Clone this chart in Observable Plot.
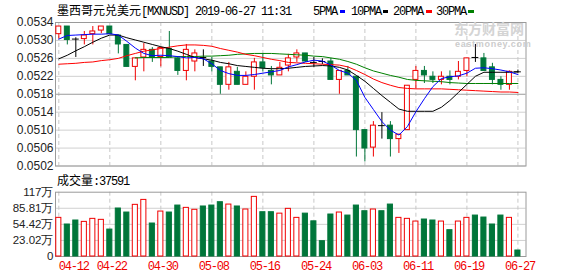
<!DOCTYPE html>
<html><head><meta charset="utf-8">
<script src="https://cdn.jsdelivr.net/npm/d3@7"></script>
<script src="https://cdn.jsdelivr.net/npm/@observablehq/plot@0.6"></script>
<style>
body{margin:0;background:#fff;}
#wrap{position:relative;width:578px;height:276px;overflow:hidden;background:#fff;}
#wrap svg{position:absolute;left:0;}
</style></head><body><div id="wrap"></div>
<script>
const dates = ["04-12","04-15","04-16","04-17","04-18","04-19","04-22","04-23","04-24","04-25","04-26","04-29","04-30",
"05-01","05-02","05-03","05-06","05-07","05-08","05-09","05-10","05-13","05-14","05-15","05-16","05-17",
"05-20","05-21","05-22","05-23","05-24","05-27","05-28","05-29","05-30","05-31",
"06-03","06-04","06-05","06-06","06-07","06-10","06-11","06-12","06-13","06-14",
"06-17","06-18","06-19","06-20","06-21","06-24","06-25","06-26","06-27"];
const open = [0.05314,0.05331,0.05303,0.05303,0.05314,0.05322,0.05331,0.05311,0.0529,0.05241,
0.05262,0.05279,0.05263,0.05281,0.0526,0.05232,0.05253,0.05262,0.05253,0.0524,
0.05201,0.0523,0.05201,0.05219,0.05251,0.05232,0.05222,0.05244,0.05262,0.05271,
0.05251,0.05253,0.05253,0.05212,0.05232,0.05219,0.051,0.05061,0.0511,0.0511,
0.0508,0.051,0.05212,0.05232,0.05219,0.05212,0.05219,0.05219,0.05232,0.05262,
0.0526,0.0524,0.05212,0.05201,0.0523];
const high = [0.05331,0.05331,0.05306,0.0532,0.05331,0.05331,0.05331,0.05311,0.0529,0.0526,
0.05293,0.05284,0.05284,0.0532,0.05263,0.05291,0.05279,0.05279,0.05262,0.0524,
0.05251,0.0524,0.0523,0.0526,0.05271,0.05242,0.05251,0.05269,0.05279,0.05271,
0.05262,0.05259,0.0526,0.05232,0.05242,0.05219,0.051,0.05119,0.05139,0.05119,
0.0509,0.05199,0.05242,0.05242,0.0523,0.0523,0.05232,0.05253,0.0526,0.05291,
0.05271,0.05249,0.05219,0.05232,0.05234];
const low = [0.05303,0.0529,0.05262,0.0529,0.0529,0.05315,0.05314,0.0527,0.05241,0.0521,
0.0523,0.05251,0.05241,0.05262,0.05222,0.0521,0.0523,0.05242,0.0523,0.0518,
0.05189,0.05201,0.05201,0.05189,0.0523,0.05201,0.05222,0.0523,0.05251,0.05251,
0.0524,0.05246,0.05212,0.0518,0.05222,0.0504,0.05029,0.0504,0.0508,0.0504,
0.05048,0.051,0.05192,0.05204,0.05204,0.05201,0.05201,0.05212,0.05219,0.05251,
0.05232,0.05201,0.05189,0.05189,0.05227];
const close = [0.05331,0.05301,0.05303,0.05311,0.0532,0.05331,0.05314,0.05291,0.05241,0.0526,
0.05279,0.05262,0.05283,0.05262,0.05232,0.05279,0.05271,0.05262,0.05241,0.05201,
0.0524,0.05201,0.05219,0.05251,0.05238,0.05222,0.05239,0.0526,0.05271,0.05253,
0.05251,0.05253,0.05212,0.05232,0.05222,0.051,0.05059,0.0511,0.0511,0.0508,
0.0509,0.05199,0.05232,0.05222,0.05212,0.05219,0.05212,0.0523,0.0526,0.05262,
0.05232,0.05212,0.05201,0.0523,0.0523];
const volume = [70.3,58.2,65.5,63,68.5,66.7,49,87.3,80,94,
103,60,81.8,80,92.7,88.5,85,91,92.7,98.8,
94.5,91,85.5,108.5,80.6,80.6,78,86.7,70.3,78,
64,27.9,76.4,80,74.5,92.7,82.4,85.5,82.4,94.5,
70.3,68.5,63.6,67.3,65.5,63.6,47.9,63.6,70.3,74.5,
70.9,58.2,74.5,70.3,10.9];
const ma5 = [0.05303,0.05311,0.05312,0.05313,0.05314,0.05314,0.05315,0.05312,0.05298,0.05283,
0.05271,0.05266,0.05267,0.05266,0.05264,0.05261,0.05262,0.05259,0.05248,0.05233,
0.05226,0.05222,0.05222,0.05224,0.05227,0.0523,0.05233,0.05241,0.05246,0.05252,
0.05256,0.05254,0.05245,0.05233,0.05227,0.05211,0.05173,0.05146,0.05119,0.051,
0.05089,0.05108,0.05141,0.0517,0.05197,0.05215,0.05219,0.05221,0.05227,0.05238,
0.05239,0.05237,0.05234,0.0523,0.05224];
const ma10 = [0.05259,0.05267,0.05277,0.05286,0.05296,0.05305,0.05312,0.05312,0.05306,0.05301,
0.05296,0.05291,0.05286,0.05282,0.05276,0.05269,0.05262,0.05259,0.05256,0.05251,
0.05248,0.05244,0.05242,0.0524,0.05238,0.05237,0.05237,0.05238,0.0524,0.05242,
0.05243,0.05244,0.05243,0.0524,0.05234,0.05222,0.05209,0.05193,0.05177,0.05162,
0.05147,0.05142,0.05142,0.05142,0.05142,0.05151,0.05166,0.05184,0.05202,0.0522,
0.05229,0.05229,0.05229,0.05229,0.0523];
const ma20 = [0.05247,0.05248,0.05249,0.05251,0.05252,0.05255,0.05257,0.0526,0.05266,0.05271,
0.05276,0.05279,0.05282,0.05285,0.05288,0.0529,0.0529,0.05289,0.05287,0.05282,
0.05278,0.05274,0.05269,0.05266,0.05262,0.05258,0.05255,0.05251,0.0525,0.05249,
0.05248,0.05247,0.05246,0.05245,0.05241,0.05233,0.05224,0.05214,0.05206,0.052,
0.05195,0.05193,0.05192,0.05192,0.05192,0.05192,0.05191,0.0519,0.05189,0.05188,
0.05187,0.05186,0.05185,0.05185,0.05184];
const ma30 = [null,null,null,null,null,null,null,null,null,0.05261,
0.05262,0.05262,0.05262,0.05262,0.05264,0.05264,0.05264,0.05265,0.05265,0.05266,
0.05267,0.05269,0.0527,0.05271,0.05271,0.05271,0.0527,0.05269,0.05268,0.05267,
0.05265,0.05264,0.05261,0.05258,0.05253,0.05247,0.05239,0.05232,0.05227,0.05222,
0.05218,0.05213,0.05211,0.0521,0.05209,0.05208,0.05206,0.05205,0.05204,0.05204,
0.05204,0.05204,0.05204,0.05204,0.05204];
const priceTicks = [0.0502,0.0506,0.0510,0.0514,0.0518,0.0522,0.0526,0.0530,0.0534];
const volTickPos = [0,29.25,58.5,87.75,117];
const volTickLabels = ["0","23.02万","54.42万","85.81万","117万"];

const RED = "#f00000", GREEN = "#00763a";
const idx = d3.range(dates.length);
const rows = idx.map(i => ({i, o:open[i], h:high[i], l:low[i], c:close[i], v:volume[i]}));
const dir = d => d.c > d.o ? 1 : d.c < d.o ? -1 : 0;
const candleColor = d => dir(d) > 0 ? RED : dir(d) < 0 ? GREEN : "#000";
const bodies = rows.filter(d => dir(d) !== 0);
const dojis = rows.filter(d => dir(d) === 0);
const tickIdx = d3.range(0, dates.length, 6);
const xOpt = {type:"linear", domain:[-0.39, 54.95], axis:null};
const baseStyle = {background:"transparent", fontFamily:"Liberation Sans, Arial, sans-serif", fontSize:"12px", overflow:"visible"};

const price = Plot.plot({
  width:578, height:168, marginLeft:55, marginRight:52.5, marginTop:22, marginBottom:2.5,
  x:xOpt, y:{domain:[0.0502,0.0534], axis:null}, color:{type:"identity"},
  style:baseStyle,
  marks:[
    Plot.ruleY(priceTicks.filter(t => t !== 0.0518), {y:d=>d, stroke:"#d0d0d0"}),
    Plot.ruleX(tickIdx, {x:d=>d, stroke:"#c8c8c8", strokeDasharray:"4,3"}),
    Plot.ruleY([0.0518], {y:d=>d, stroke:"#9a9a9a"}),
    Plot.frame({stroke:"#9a9a9a"}),
    Plot.text(priceTicks, {y:d=>d, text:d=>d.toFixed(4), frameAnchor:"left", textAnchor:"end", dx:-2, fill:"#222", fontSize:12}),
    Plot.ruleX(rows, {x:"i", y1:"l", y2:"h", stroke:candleColor}),
    Plot.rect(bodies, {x1:d=>d.i-0.29, x2:d=>d.i+0.29, y1:"o", y2:"c", fill:d=>dir(d)>0?"#fff":GREEN, stroke:candleColor}),
    Plot.ruleY(dojis, {y:"c", x1:d=>d.i-0.4, x2:d=>d.i+0.4, stroke:"#000"}),
    Plot.line(idx, {x:d=>d, y:d=>ma30[d], stroke:"#008000", strokeWidth:1}),
    Plot.line(idx, {x:d=>d, y:d=>ma20[d], stroke:"#ff0000", strokeWidth:1}),
    Plot.line(idx, {x:d=>d, y:d=>ma10[d], stroke:"#000000", strokeWidth:1}),
    Plot.line(idx, {x:d=>d, y:d=>ma5[d], stroke:"#0000ff", strokeWidth:1})
  ]
});
price.style.top = "0px";

const vol = Plot.plot({
  width:578, height:96, marginLeft:55, marginRight:52.5, marginTop:11.7, marginBottom:20,
  x:xOpt, y:{domain:[0,117], axis:null}, color:{type:"identity"},
  style:baseStyle,
  marks:[
    Plot.ruleY(volTickPos.slice(1,4), {y:d=>d, stroke:"#d0d0d0"}),
    Plot.ruleX(tickIdx, {x:d=>d, stroke:"#c8c8c8", strokeDasharray:"4,3"}),
    Plot.frame({stroke:"#9a9a9a"}),
    Plot.text(volTickPos, {y:d=>d, text:(d,i)=>volTickLabels[i], frameAnchor:"left", textAnchor:"end", dx:-2, fill:"#222", fontSize:11.5}),
    Plot.rect(rows, {x1:d=>d.i-0.3, x2:d=>d.i+0.3, y1:0, y2:"v", fill:d=>dir(d)>0?"#fff":GREEN, stroke:d=>dir(d)>0?RED:GREEN}),
    Plot.text(tickIdx.slice(0,1), {x:d=>d, text:d=>dates[d], frameAnchor:"bottom", lineAnchor:"top", textAnchor:"start", dx:0, dy:5, fill:RED, fontFamily:"Liberation Mono", fontSize:12}),
    Plot.text(tickIdx.slice(1), {x:d=>d, text:d=>dates[d], frameAnchor:"bottom", lineAnchor:"top", textAnchor:"middle", dx:2, dy:5, fill:RED, fontFamily:"Liberation Mono", fontSize:12})
  ]
});
vol.style.top = "180px";
vol.querySelectorAll('g[font-family="Liberation Mono"]').forEach(g => g.style.letterSpacing = "-1.2px");

const wrap = document.getElementById("wrap");
wrap.appendChild(price);
wrap.appendChild(vol);

const ns = "http://www.w3.org/2000/svg";
const ov = document.createElementNS(ns, "svg");
ov.setAttribute("width", 578); ov.setAttribute("height", 276);
ov.style.top = "0px";
const mono = 'font-family="Liberation Mono, Noto Sans CJK SC, monospace" letter-spacing="-1.2" font-size="12"';
const cjk = 'font-family="Noto Sans CJK SC" letter-spacing="0"';
ov.innerHTML = `
<text x="454" y="34" font-family="Noto Sans CJK SC" font-weight="bold" font-size="14" fill="#d4d4d4">东方财富网</text>
<text x="455" y="46.5" font-family="Liberation Sans" font-weight="bold" font-size="9" letter-spacing="0.7" fill="#cccccc">eastmoney.com</text>
<text x="57" y="15" ${mono} fill="#000"><tspan ${cjk}>墨西哥元兑美元</tspan>[MXNUSD] 2019-06-27 11:31</text>
<text x="313" y="15" ${mono} fill="#000">5PMA</text><rect x="340" y="10" width="5" height="3" fill="#0000ff"/>
<text x="351" y="15" ${mono} fill="#000">10PMA</text><rect x="383" y="10" width="5" height="3" fill="#000"/>
<text x="393" y="15" ${mono} fill="#000">20PMA</text><rect x="426" y="10" width="6" height="3" fill="#ff0000"/>
<text x="436" y="15" ${mono} fill="#000">30PMA</text><rect x="468" y="10" width="6" height="3" fill="#008000"/>
<text x="57" y="185" ${mono} fill="#000"><tspan ${cjk}>成交量</tspan>:37591</text>
`;
wrap.appendChild(ov);
</script></body></html>
